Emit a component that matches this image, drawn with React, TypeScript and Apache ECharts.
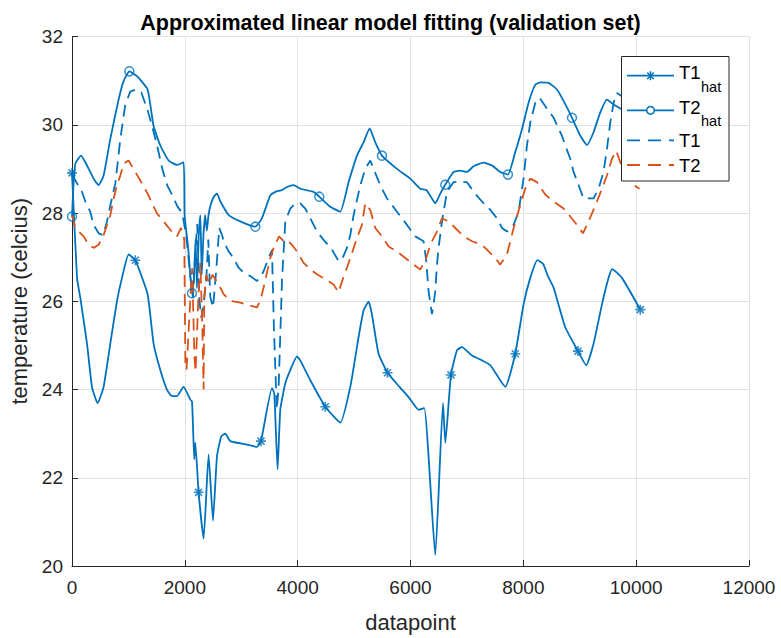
import React, { useEffect, useRef } from "react";
import * as echarts from "echarts";

// Estimated model outputs and measured temperatures, [datapoint, °C]
const t1hat: [number, number][] = [
  [0, 28.91], [89, 26.53], [147, 26.08], [266, 25.04], [354, 24.06], [454, 23.69], [560, 24.06],
  [679, 25.04], [798, 26.01], [886, 26.53], [1003, 27.06], [1122, 26.93], [1340, 26.16], [1446, 25.04],
  [1565, 24.44], [1684, 23.99], [1760, 23.86], [1861, 23.85], [1978, 24.06], [2097, 23.77], [2127, 23.73],
  [2155, 22.79], [2168, 22.42], [2186, 22.79], [2244, 21.67], [2333, 20.62], [2421, 22.53], [2499, 21.03],
  [2570, 22.49], [2646, 22.94], [2717, 23.0], [2806, 22.83], [3102, 22.75], [3279, 22.7], [3350, 22.83],
  [3545, 24.03], [3586, 23.91], [3644, 22.19], [3692, 23.54], [3781, 24.14], [3869, 24.44], [3988, 24.75],
  [4046, 24.66], [4224, 24.21], [4490, 23.61], [4755, 23.25], [4933, 24.06], [5080, 25.19], [5168, 25.79],
  [5257, 25.99], [5316, 25.71], [5434, 24.81], [5594, 24.38], [5805, 24.06], [5983, 23.8], [6143, 23.54],
  [6244, 23.58], [6439, 20.25], [6576, 23.69], [6617, 22.79], [6717, 24.33], [6824, 24.89], [6912, 24.96],
  [7090, 24.77], [7267, 24.66], [7415, 24.55], [7680, 24.06], [7857, 24.81], [8004, 25.93], [8123, 26.53],
  [8250, 26.93], [8350, 26.85], [8442, 26.55], [8536, 26.31], [8743, 25.41], [8969, 24.87], [9115, 24.55],
  [9245, 25.04], [9394, 25.93], [9511, 26.53], [9576, 26.73], [9748, 26.53], [10073, 25.81],
];

const t2hat: [number, number][] = [
  [0, 27.92], [23, 28.55], [59, 29.12], [160, 29.3], [236, 29.15], [383, 28.78], [472, 28.63], [560, 28.85],
  [679, 29.68], [826, 30.57], [915, 30.99], [1016, 31.21], [1152, 31.1], [1340, 30.8], [1446, 29.97],
  [1565, 29.53], [1712, 29.19], [1861, 29.09], [1978, 29.15], [1996, 27.95], [2060, 27.2], [2126, 26.18],
  [2160, 26.5], [2190, 27.4], [2215, 26.3], [2250, 27.6], [2275, 27.95], [2300, 26.6], [2330, 27.5],
  [2360, 27.95], [2390, 27.6], [2420, 27.95], [2460, 28.2], [2520, 28.38], [2570, 28.44], [2630, 28.26],
  [2780, 27.95], [2980, 27.81], [3249, 27.69], [3366, 27.88], [3515, 28.4], [3604, 28.48], [3722, 28.52],
  [3810, 28.59], [3929, 28.63], [4046, 28.55], [4283, 28.48], [4383, 28.37], [4578, 28.14], [4755, 28.03],
  [4903, 28.7], [5051, 29.3], [5168, 29.6], [5275, 29.92], [5376, 29.6], [5494, 29.3], [5760, 29.0],
  [5996, 28.78], [6173, 28.55], [6280, 28.52], [6380, 28.33], [6439, 28.22], [6528, 28.44], [6616, 28.64],
  [6764, 28.93], [6882, 28.96], [7000, 28.93], [7118, 29.06], [7295, 29.14], [7444, 29.08], [7591, 28.93],
  [7727, 28.87], [7857, 29.38], [7976, 29.9], [8093, 30.5], [8212, 30.91], [8300, 30.96], [8447, 30.95],
  [8596, 30.8], [8713, 30.54], [8862, 30.16], [9010, 29.75], [9128, 29.54], [9245, 29.83], [9364, 30.28],
  [9482, 30.57], [9599, 30.46], [9745, 30.35], [9900, 30.2], [9985, 30.1], [10080, 30.0],
];

const t1: [number, number][] = [
  [0, 28.87], [59, 28.74], [177, 28.48], [236, 28.26], [324, 28.03], [383, 27.73], [472, 27.54], [550, 27.5],
  [621, 27.81], [679, 28.17], [768, 28.67], [857, 29.68], [945, 30.46], [1033, 30.75], [1140, 30.8],
  [1229, 30.73], [1335, 30.35], [1424, 29.95], [1513, 29.5], [1601, 29.0], [1690, 28.62], [1779, 28.4],
  [1868, 28.15], [1956, 27.99], [2030, 27.43], [2100, 26.53], [2145, 26.08], [2185, 27.1], [2220, 27.75],
  [2255, 26.08], [2290, 25.63], [2327, 25.86], [2380, 26.5], [2416, 27.4], [2450, 26.1], [2500, 25.86],
  [2560, 26.76], [2610, 27.66], [2660, 27.5], [2687, 27.36], [2776, 27.13], [2864, 26.98], [2953, 26.76],
  [3041, 26.65], [3160, 26.57], [3279, 26.46], [3337, 26.53], [3396, 26.68], [3485, 26.98], [3545, 27.16],
  [3580, 25.34], [3630, 23.55], [3663, 24.06], [3722, 26.46], [3781, 27.81], [3869, 28.1], [3958, 28.22],
  [4046, 28.22], [4135, 28.1], [4224, 27.88], [4342, 27.58], [4459, 27.39], [4608, 27.17], [4725, 26.91],
  [4786, 26.95], [4874, 27.21], [4933, 27.5], [4991, 27.95], [5110, 28.63], [5198, 29.0], [5287, 29.19],
  [5346, 29.0], [5464, 28.63], [5583, 28.33], [5760, 28.03], [5938, 27.73], [6085, 27.47], [6232, 27.36],
  [6280, 26.91], [6320, 26.23], [6380, 25.71], [6409, 25.93], [6439, 26.23], [6469, 26.83], [6498, 27.21],
  [6558, 27.81], [6646, 28.48], [6764, 28.7], [7000, 28.7], [7118, 28.48], [7267, 28.26], [7415, 28.07],
  [7533, 27.88], [7622, 27.66], [7710, 27.58], [7828, 27.73], [7916, 28.03], [8004, 28.78], [8064, 29.53],
  [8123, 30.05], [8212, 30.5], [8288, 30.61], [8389, 30.42], [8536, 30.16], [8685, 29.75], [8743, 29.53],
  [8832, 29.23], [8891, 28.93], [8980, 28.63], [9066, 28.33], [9245, 28.33], [9334, 28.55], [9422, 28.93],
  [9482, 29.45], [9541, 30.05], [9600, 30.5], [9660, 30.72], [9800, 30.6], [10000, 30.3], [10080, 30.2],
];

const t2: [number, number][] = [
  [0, 27.95], [59, 27.66], [206, 27.47], [295, 27.28], [383, 27.21], [472, 27.28], [561, 27.5], [621, 27.73],
  [679, 27.95], [738, 28.33], [797, 28.63], [857, 28.85], [915, 29.12], [1003, 29.19], [1122, 28.93],
  [1240, 28.67], [1340, 28.44], [1418, 28.22], [1506, 27.99], [1624, 27.81], [1742, 27.62], [1861, 27.47],
  [1932, 27.66], [1990, 27.4], [2010, 24.5], [2030, 24.45], [2100, 26.1], [2130, 26.75], [2170, 24.74],
  [2190, 24.4], [2240, 26.1], [2275, 26.87], [2310, 25.4], [2333, 24.0], [2345, 26.1], [2380, 26.6],
  [2430, 26.4], [2490, 26.6], [2600, 26.38], [2687, 26.16], [2806, 26.01], [2983, 25.97], [3160, 25.9],
  [3279, 25.86], [3337, 26.01], [3396, 26.31], [3515, 26.98], [3574, 27.21], [3670, 27.47], [3751, 27.36],
  [3810, 27.39], [3899, 27.28], [3988, 27.13], [4105, 26.87], [4224, 26.72], [4342, 26.61], [4490, 26.5],
  [4637, 26.38], [4725, 26.2], [4786, 26.45], [4874, 26.76], [4962, 27.09], [5051, 27.43], [5139, 27.73],
  [5198, 28.22], [5287, 28.07], [5376, 27.66], [5494, 27.47], [5612, 27.24], [5760, 27.13], [5907, 26.98],
  [6055, 26.83], [6173, 26.72], [6262, 26.91], [6350, 27.28], [6469, 27.58], [6558, 27.88], [6676, 27.81],
  [6794, 27.66], [6941, 27.47], [7090, 27.36], [7267, 27.28], [7385, 27.13], [7503, 26.98], [7591, 26.83],
  [7710, 27.06], [7828, 27.66], [7946, 28.18], [8034, 28.55], [8123, 28.78], [8241, 28.7], [8389, 28.42],
  [8536, 28.26], [8713, 28.1], [8832, 27.92], [8951, 27.73], [9057, 27.54], [9128, 27.73], [9217, 27.99],
  [9305, 28.26], [9394, 28.55], [9482, 28.85], [9571, 29.23], [9647, 29.41], [9718, 29.15], [9837, 28.85],
  [9954, 28.63], [10060, 28.55],
];

// Datapoints that carry a marker on the estimated curves
const t1hatMarkerX = [0, 1122, 2244, 3350, 4490, 5594, 6717, 7857, 8969, 10073];
const t2hatMarkerX = [0, 1016, 2126, 3249, 4383, 5494, 6616, 7727, 8862, 9985];

const BLUE = "#0072BD";
const ORANGE = "#D95319";
const AXIS = "#262626";
const FONT = "'Liberation Sans', Arial, Helvetica, sans-serif";
const DASH = [12, 7];

// eight-armed asterisk marker, built from filled bars
const ASTERISK =
  "path://M4.2 0L5.8 0L5.8 10L4.2 10Z M0 4.2L10 4.2L10 5.8L0 5.8Z M0.93 2.07L2.07 0.93L9.07 7.93L7.93 9.07Z M7.93 0.93L9.07 2.07L2.07 9.07L0.93 7.93Z";

const pick = (data: [number, number][], xs: number[]) => data.filter((p) => xs.includes(p[0]));

function legendGraphic() {
  const x0 = 621.5;
  const y0 = 56.5;
  const lx1 = 627;
  const lx2 = 674;
  const cx = (lx1 + lx2) / 2;
  const tx = 679;
  const rows = [75.7, 110.3, 140.3, 165];
  const textStyle = { fill: "#000", font: `18.5px ${FONT}` };
  const subStyle = { fill: "#000", font: `14.5px ${FONT}` };
  const arm = 4.5;
  const d = arm * 0.72;
  const lineStyle = (color: string, dash?: number[]) => ({
    stroke: color,
    lineWidth: 1.8,
    lineDash: dash,
  });
  return {
    type: "group",
    z: 100,
    children: [
      {
        type: "rect",
        shape: { x: x0, y: y0, width: 107.5, height: 124.5 },
        style: { fill: "#fff", stroke: AXIS, lineWidth: 1 },
        z: 100,
      },
      // T1hat
      { type: "line", z: 101, shape: { x1: lx1, y1: rows[0], x2: lx2, y2: rows[0] }, style: lineStyle(BLUE) },
      { type: "line", z: 101, shape: { x1: cx, y1: rows[0] - arm, x2: cx, y2: rows[0] + arm }, style: { stroke: BLUE, lineWidth: 1.5 } },
      { type: "line", z: 101, shape: { x1: cx - d, y1: rows[0] - d, x2: cx + d, y2: rows[0] + d }, style: { stroke: BLUE, lineWidth: 1.5 } },
      { type: "line", z: 101, shape: { x1: cx - d, y1: rows[0] + d, x2: cx + d, y2: rows[0] - d }, style: { stroke: BLUE, lineWidth: 1.5 } },
      { type: "text", z: 101, x: tx, y: rows[0] - 3, style: { ...textStyle, text: "T1", verticalAlign: "middle" } },
      { type: "text", z: 101, x: tx + 22, y: rows[0] + 11, style: { ...subStyle, text: "hat", verticalAlign: "middle" } },
      // T2hat
      { type: "line", z: 101, shape: { x1: lx1, y1: rows[1], x2: lx2, y2: rows[1] }, style: lineStyle(BLUE) },
      { type: "circle", z: 102, shape: { cx, cy: rows[1], r: 3.8 }, style: { fill: "#fff", stroke: BLUE, lineWidth: 1.5 } },
      { type: "text", z: 101, x: tx, y: rows[1] - 3, style: { ...textStyle, text: "T2", verticalAlign: "middle" } },
      { type: "text", z: 101, x: tx + 22, y: rows[1] + 11, style: { ...subStyle, text: "hat", verticalAlign: "middle" } },
      // T1
      { type: "line", z: 101, shape: { x1: lx1, y1: rows[2], x2: lx2, y2: rows[2] }, style: lineStyle(BLUE, [13, 8]) },
      { type: "text", z: 101, x: tx, y: rows[2], style: { ...textStyle, text: "T1", verticalAlign: "middle" } },
      // T2
      { type: "line", z: 101, shape: { x1: lx1, y1: rows[3], x2: lx2, y2: rows[3] }, style: lineStyle(ORANGE, [13, 8]) },
      { type: "text", z: 101, x: tx, y: rows[3], style: { ...textStyle, text: "T2", verticalAlign: "middle" } },
    ],
  };
}

export default function App() {
  const ref = useRef<HTMLDivElement>(null);

  useEffect(() => {
    if (!ref.current) return;
    const chart = echarts.init(ref.current, undefined, { renderer: "svg" });

    const lineSeries = (name: string, data: [number, number][], color: string, dashed: boolean) => ({
      name,
      type: "line",
      data,
      showSymbol: false,
      symbol: "none",
      smooth: dashed ? false : 0.15,
      lineStyle: { color, width: 1.8, type: dashed ? DASH : "solid" },
      itemStyle: { color },
      z: 2,
    });

    chart.setOption({
      animation: false,
      backgroundColor: "#fff",
      textStyle: { fontFamily: FONT },
      title: {
        text: "Approximated linear model fitting (validation set)",
        left: "center",
        top: 7,
        textStyle: { fontSize: 21.5, fontWeight: "bold", color: "#000", fontFamily: FONT },
      },
      grid: { left: 72, top: 36.5, width: 677, height: 534.5, containLabel: false },
      xAxis: {
        type: "value",
        min: 0,
        max: 12000,
        interval: 2000,
        name: "datapoint",
        nameLocation: "middle",
        nameGap: 45,
        nameTextStyle: { fontSize: 22, color: AXIS, fontFamily: FONT },
        axisLine: { show: true, onZero: false, lineStyle: { color: AXIS, width: 1 } },
        axisTick: { show: true, inside: true, length: 6, lineStyle: { color: AXIS } },
        axisLabel: { fontSize: 19, color: AXIS, margin: 12, fontFamily: FONT, formatter: (v: number) => String(v) },
        splitLine: { show: true, lineStyle: { color: "#e2e2e2", width: 1 } },
      },
      yAxis: {
        type: "value",
        min: 20,
        max: 32,
        interval: 2,
        name: "temperature (celcius)",
        nameLocation: "middle",
        nameGap: 38,
        nameTextStyle: { fontSize: 22, color: AXIS, fontFamily: FONT },
        axisLine: { show: true, onZero: false, lineStyle: { color: AXIS, width: 1 } },
        axisTick: { show: true, inside: true, length: 6, lineStyle: { color: AXIS } },
        axisLabel: { fontSize: 19, color: AXIS, margin: 9, fontFamily: FONT, formatter: (v: number) => String(v) },
        splitLine: { show: true, lineStyle: { color: "#e2e2e2", width: 1 } },
      },
      series: [
        lineSeries("T1hat", t1hat, BLUE, false),
        {
          name: "T1hat markers",
          type: "scatter",
          data: pick(t1hat, t1hatMarkerX),
          symbol: ASTERISK,
          symbolSize: 10,
          itemStyle: { color: BLUE },
          z: 3,
        },
        lineSeries("T2hat", t2hat, BLUE, false),
        {
          name: "T2hat markers",
          type: "scatter",
          data: pick(t2hat, t2hatMarkerX),
          symbol: "circle",
          symbolSize: 9,
          itemStyle: { color: "rgba(0,0,0,0)", borderColor: BLUE, borderWidth: 1.5 },
          z: 3,
        },
        lineSeries("T1", t1, BLUE, true),
        lineSeries("T2", t2, ORANGE, true),
      ],
      graphic: [legendGraphic()],
    });

    return () => chart.dispose();
  }, []);

  return (
    <div
      ref={ref}
      style={{ position: "fixed", left: 0, top: 0, width: 781, height: 638, background: "#fff" }}
    />
  );
}
